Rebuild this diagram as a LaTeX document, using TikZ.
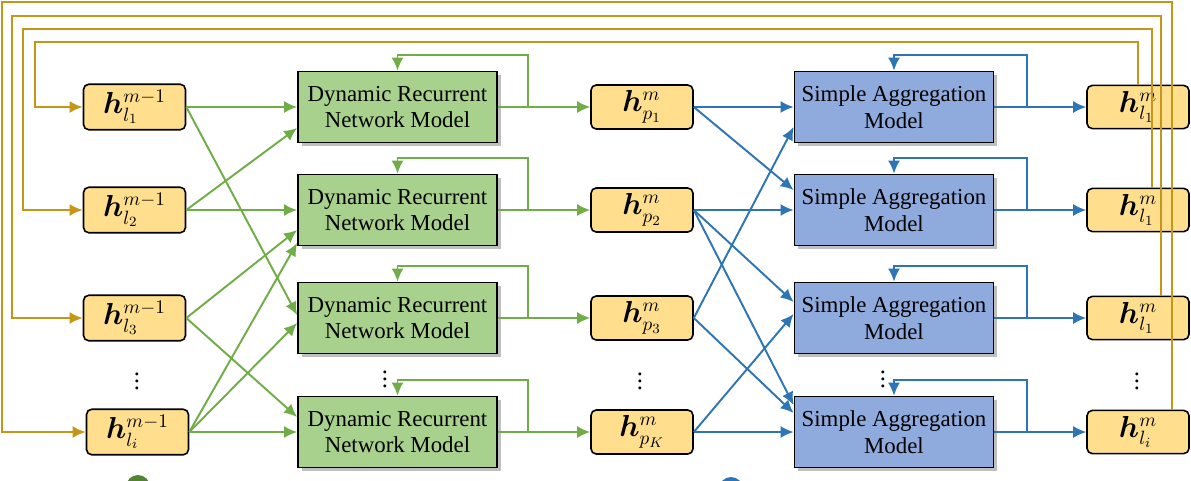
\documentclass[tikz,border=0pt]{standalone}
\usepackage{fontspec}
\setmainfont{Liberation Serif}
\usepackage{bm}
\usetikzlibrary{positioning}
\usetikzlibrary{calc}
\usetikzlibrary{arrows.meta,shadows}

\definecolor{boxyellow}{RGB}{255,223,142}
\definecolor{fbgold}{RGB}{197,151,24}
\definecolor{drngreen}{RGB}{169,209,142}
\definecolor{lngreen}{RGB}{112,173,71}
\definecolor{sablue}{RGB}{143,170,220}
\definecolor{lnblue}{RGB}{46,117,182}
\definecolor{dkgreen}{RGB}{84,130,53}

\begin{document}
\begin{tikzpicture}[
hbox/.style={draw=black, line width=0.9pt, fill=boxyellow, rounded corners=3pt, minimum width=2.04cm, minimum height=0.84cm, font=\fontsize{16}{18}\selectfont},
drnbox/.style={draw=black, line width=1pt, fill=drngreen, minimum width=3.98cm, minimum height=1.42cm, align=center, font=\fontsize{13}{15}\selectfont, drop shadow={shadow xshift=2pt, shadow yshift=-2pt, opacity=0.5}},
sambox/.style={drnbox, fill=sablue},
garr/.style={draw=lngreen, line width=1.1pt, -{Latex[length=2.6mm,width=2.4mm]}},
barr/.style={draw=lnblue, line width=1.1pt, -{Latex[length=2.6mm,width=2.4mm]}},
farr/.style={draw=fbgold, line width=1.2pt, -{Latex[length=2.6mm,width=2.4mm]}},
dotsnode/.style={inner sep=0pt, font=\fontsize{14}{14}\selectfont\boldmath}
]
\useasboundingbox (0,0) rectangle (23.82,-9.6);

\node[hbox](ll1) at (2.69,-2.14){$\bm{h}^{m-1}_{l_1}$};
\node[hbox](ll2) at (2.69,-4.2){$\bm{h}^{m-1}_{l_2}$};
\node[hbox](ll3) at (2.69,-6.36){$\bm{h}^{m-1}_{l_3}$};
\node[hbox](lli) at (2.75,-8.64){$\bm{h}^{m-1}_{l_i}$};
\node[dotsnode](dl) at (2.74,-7.52){$\vdots$};

\node[drnbox](drn1) at (7.95,-2.14){Dynamic Recurrent\\Network Model};
\node[drnbox](drn2) at (7.95,-4.2){Dynamic Recurrent\\Network Model};
\node[drnbox](drn3) at (7.95,-6.36){Dynamic Recurrent\\Network Model};
\node[drnbox](drn4) at (7.95,-8.64){Dynamic Recurrent\\Network Model};
\node[dotsnode](ddrn) at (7.70,-7.48){$\vdots$};

\node[hbox](pm1) at (12.84,-2.14){$\bm{h}^{m}_{p_1}$};
\node[hbox](pm2) at (12.84,-4.2){$\bm{h}^{m}_{p_2}$};
\node[hbox](pm3) at (12.84,-6.36){$\bm{h}^{m}_{p_3}$};
\node[hbox](pmK) at (12.84,-8.64){$\bm{h}^{m}_{p_K}$};
\node[dotsnode](dp) at (12.80,-7.52){$\vdots$};

\node[sambox](sam1) at (17.88,-2.14){Simple Aggregation\\Model};
\node[sambox](sam2) at (17.88,-4.2){Simple Aggregation\\Model};
\node[sambox](sam3) at (17.88,-6.36){Simple Aggregation\\Model};
\node[sambox](sam4) at (17.88,-8.64){Simple Aggregation\\Model};
\node[dotsnode](dsam) at (17.66,-7.48){$\vdots$};

\node[hbox](rl1) at (22.76,-2.14){$\bm{h}^{m}_{l_1}$};
\node[hbox](rl2) at (22.76,-4.2){$\bm{h}^{m}_{l_1}$};
\node[hbox](rl3) at (22.76,-6.36){$\bm{h}^{m}_{l_1}$};
\node[hbox](rli) at (22.76,-8.64){$\bm{h}^{m}_{l_i}$};
\node[dotsnode](dr) at (22.74,-7.52){$\vdots$};

\path
(ll1.east) edge[garr] (drn1.west)
(ll1.east) edge[garr] ([yshift=0.06cm]drn3.west)
(ll2.east) edge[garr] ([yshift=-0.42cm]drn1.west)
(ll2.east) edge[garr] (drn2.west)
(ll3.east) edge[garr] ([yshift=-0.40cm]drn2.west)
(ll3.east) edge[garr] ([yshift=0.30cm]drn4.west)
(lli.east) edge[garr] ([yshift=-0.66cm]drn2.west)
(lli.east) edge[garr] ([yshift=-0.10cm]drn3.west)
(lli.east) edge[garr] (drn4.west);

\foreach \i/\p in {1/pm1,2/pm2,3/pm3,4/pmK}{
\draw[garr] (drn\i.east) -- (\p.west);
\draw[garr] ($(drn\i.east)!0.33!(\p.west)$) |- ([yshift=0.32cm]drn\i.north) -- (drn\i.north);
}

\path
(pm1.east) edge[barr] (sam1.west)
(pm1.east) edge[barr] ([yshift=0.40cm]sam2.west)
(pm2.east) edge[barr] (sam2.west)
(pm2.east) edge[barr] ([yshift=0.32cm]sam3.west)
(pm2.east) edge[barr] ([yshift=0.54cm]sam4.west)
(pm3.east) edge[barr] ([yshift=-0.40cm]sam1.west)
(pm3.east) edge[barr] ([yshift=0.38cm]sam4.west)
(pmK.east) edge[barr] ([yshift=0.08cm]sam3.west)
(pmK.east) edge[barr] (sam4.west);

\foreach \i/\r in {1/rl1,2/rl2,3/rl3,4/rli}{
\draw[barr] (sam\i.east) -- (\r.west);
\draw[barr] ($(sam\i.east)!0.35!(\r.west)$) |- ([yshift=0.32cm]sam\i.north) -- (sam\i.north);
}

\draw[farr] (rl1.north) |- (0.70,-0.84) |- (ll1.west);
\draw[farr] ([xshift=0.28cm]rl2.north) |- (0.46,-0.58) |- (ll2.west);
\draw[farr] ([xshift=0.46cm]rl3.north) |- (0.24,-0.32) |- (ll3.west);
\draw[farr] ([xshift=0.68cm]rli.north) |- (0.04,-0.04) |- (lli.west);

\node[circle, fill=dkgreen, minimum size=0.48cm, inner sep=0pt](lgg) at (2.76,-9.74){};
\node[circle, fill=lnblue, minimum size=0.48cm, inner sep=0pt](lgb) at (14.62,-9.78){};
\end{tikzpicture}
\end{document}
